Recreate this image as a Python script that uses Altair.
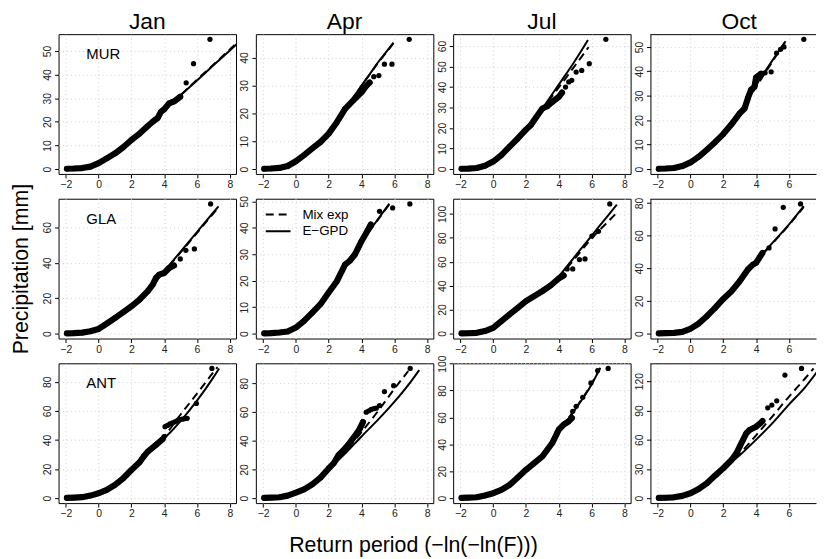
import altair as alt
import pandas as pd

FONT = "Liberation Sans"
MONTHS = ["Jan", "Apr", "Jul", "Oct"]
SITES = ["MUR", "GLA", "ANT"]
LEGEND_LABELS = ["Mix exp", "E\u2212GPD"]
X_TITLE = "Return period (\u2212ln(\u2212ln(F)))"
Y_TITLE = "Precipitation [mm]"
X_TICKS = [-2, 0, 2, 4, 6, 8]

# y tick labels per panel
MUR_YTICKS = [[0, 10, 20, 30, 40, 50], [0, 10, 20, 30, 40], [0, 10, 20, 30, 40, 50, 60], [0, 10, 20, 30, 40, 50]]
GLA_YTICKS = [[0, 20, 40, 60], [0, 10, 20, 30, 40, 50], [0, 20, 40, 60, 80, 100], [0, 20, 40, 60, 80]]
ANT_YTICKS = [[0, 20, 40, 60, 80], [0, 20, 40, 60, 80], [0, 20, 40, 60, 80, 100], [0, 30, 60, 90, 120]]

# ---------------- MUR ----------------
MUR_JAN_BAND = [(-1.93, 0.1), (-1.5, 0.2), (-1.0, 0.4), (-0.5, 1.0), (0.0, 2.5), (0.5, 4.5), (1.0, 6.6), (1.5, 9.2),
                (2.0, 12.3), (2.5, 15.0), (3.0, 18.2), (3.3, 20.0), (3.6, 21.6), (3.8, 24.2), (4.0, 25.3), (4.3, 27.8),
                (4.6, 28.6), (4.98, 30.6)]
MUR_JAN_TAIL = [(5.34, 36.5), (5.79, 44.6), (6.79, 54.9)]
MUR_JAN_EGPD = [(-2, 0.1), (-1, 0.4), (0, 2.6), (1, 6.8), (2, 12.4), (3, 18.6), (4, 24.9), (5, 31.2), (6, 37.5),
                (7, 43.9), (8, 50.2), (8.5, 53.4)]
MUR_JAN_MIX = [(-2, 0.1), (-1, 0.4), (0, 2.5), (1, 6.7), (2, 12.3), (3, 18.5), (4, 24.8), (5, 31.3), (6, 37.8),
               (7, 44.2), (8, 50.6), (8.5, 53.8)]

MUR_APR_BAND = [(-1.93, 0.1), (-1.5, 0.2), (-1.0, 0.4), (-0.5, 1.1), (0.0, 2.8), (0.5, 5.0), (1.0, 7.4), (1.5, 9.7),
                (2.0, 12.7), (2.5, 16.8), (3.0, 21.6), (3.5, 24.6), (4.0, 27.5), (4.3, 29.9), (4.5, 31.0)]
MUR_APR_TAIL = [(4.75, 33.1), (5.06, 33.5), (5.40, 37.6), (5.86, 37.6), (6.91, 46.5)]
MUR_APR_EGPD = [(-2, 0.1), (-1, 0.4), (0, 2.8), (1, 7.3), (2, 12.8), (3, 21.4), (3.5, 25.7), (4, 29.9), (4.5, 34.0),
                (5, 38.2), (5.5, 41.9), (5.95, 45.3)]
MUR_APR_MIX = [(-2, 0.1), (-1, 0.4), (0, 2.8), (1, 7.3), (2, 12.8), (3, 21.3), (3.5, 25.6), (4, 29.8), (4.5, 33.9),
               (5, 38.0), (5.5, 41.7), (5.95, 45.1)]

MUR_JUL_BAND = [(-1.93, 0.1), (-1.5, 0.2), (-1.0, 0.5), (-0.5, 1.6), (0.0, 3.6), (0.5, 6.8), (1.0, 10.9), (1.5, 14.9),
                (2.0, 19.2), (2.3, 21.5), (2.6, 25.0), (3.0, 29.5), (3.3, 30.6), (3.6, 32.7), (4.0, 35.2), (4.2, 37.3)]
MUR_JUL_TAIL = [(4.41, 40.0), (4.61, 42.5), (4.79, 43.3), (5.06, 47.3), (5.40, 48.1), (5.86, 51.4), (6.87, 63.3)]
MUR_JUL_EGPD = [(-2, 0.1), (-1, 0.5), (0, 3.6), (1, 10.9), (2, 19.4), (3, 29.6), (4, 41.2), (5, 53.0), (5.78, 63.0)]
MUR_JUL_MIX = [(-2, 0.1), (-1, 0.5), (0, 3.6), (1, 10.9), (2, 19.3), (3, 29.4), (4, 39.8), (5, 50.6), (5.82, 59.5)]

MUR_OCT_BAND = [(-1.93, 0.1), (-1.5, 0.2), (-1.0, 0.4), (-0.5, 1.2), (0.0, 2.7), (0.5, 5.0), (1.0, 7.9), (1.5, 11.0),
                (2.0, 14.3), (2.5, 18.3), (3.0, 22.8), (3.3, 24.8), (3.5, 29.0), (3.7, 32.5), (3.9, 33.6), (4.0, 37.5),
                (4.3, 39.0)]
MUR_OCT_TAIL = [(4.55, 39.4), (4.92, 39.8), (5.25, 47.5), (5.5, 49.0), (5.7, 50.0), (6.91, 53.1)]
MUR_OCT_EGPD = [(-2, 0.1), (-1, 0.4), (0, 2.7), (1, 7.9), (2, 14.4), (3, 23.5), (4, 34.3), (5, 44.5), (5.8, 52.3)]
MUR_OCT_MIX = [(-2, 0.1), (-1, 0.4), (0, 2.7), (1, 7.8), (2, 14.2), (3, 23.0), (4, 33.6), (5, 44.0), (5.75, 51.8)]

# ---------------- GLA ----------------
GLA_JAN_BAND = [(-1.93, 0.1), (-1.5, 0.2), (-1.0, 0.5), (-0.5, 1.3), (0.0, 2.6), (0.5, 5.6), (1.0, 8.8), (1.5, 12.0),
                (2.0, 15.4), (2.5, 19.2), (3.0, 23.9), (3.3, 27.6), (3.5, 31.4), (3.7, 33.3), (4.0, 34.2), (4.3, 37.0),
                (4.6, 38.4)]
GLA_JAN_TAIL = [(4.98, 42.1), (5.32, 47.0), (5.84, 47.8), (6.83, 73.2)]
GLA_JAN_EGPD = [(-2, 0.1), (-1, 0.5), (0, 2.6), (1, 8.8), (2, 15.6), (3, 24.2), (4, 35.2), (5, 46.2), (6, 57.3),
                (7, 68.4), (7.31, 71.8)]
GLA_JAN_MIX = [(-2, 0.1), (-1, 0.5), (0, 2.6), (1, 8.7), (2, 15.5), (3, 24.0), (4, 34.9), (5, 45.8), (6, 56.8),
               (7, 67.8), (7.3, 71.0)]

GLA_APR_BAND = [(-1.93, 0.1), (-1.5, 0.2), (-1.0, 0.4), (-0.5, 0.8), (0.0, 2.3), (0.5, 4.8), (1.0, 7.9), (1.5, 11.1),
                (2.0, 15.5), (2.5, 19.8), (3.0, 26.1), (3.3, 27.6), (3.6, 29.9), (3.8, 32.4), (4.0, 34.9), (4.3, 38.1),
                (4.57, 41.2)]
GLA_APR_TAIL = [(5.1, 46.2), (5.90, 47.5), (6.95, 49.0)]
GLA_APR_EGPD = [(-2, 0.1), (-1, 0.4), (0, 2.3), (1, 7.9), (2, 15.6), (3, 25.8), (4, 34.6), (5, 43.2), (5.7, 49.1)]
GLA_APR_MIX = [(-2, 0.1), (-1, 0.4), (0, 2.3), (1, 7.9), (2, 15.5), (3, 25.7), (4, 34.5), (5, 43.0), (5.7, 48.9)]

GLA_JUL_BAND = [(-1.93, 0.1), (-1.5, 0.2), (-1.0, 0.5), (-0.5, 2.0), (0.0, 4.7), (0.5, 10.3), (1.0, 15.9), (1.5, 21.4),
                (2.0, 27.0), (2.5, 31.2), (3.0, 35.4), (3.5, 40.1), (4.0, 46.0), (4.3, 48.5)]
GLA_JUL_TAIL = [(4.51, 54.0), (4.85, 54.0), (5.26, 61.8), (5.60, 62.4), (6.02, 81.5), (6.42, 85.5), (7.11, 108.4)]
GLA_JUL_EGPD = [(-2, 0.1), (-1, 0.5), (0, 4.7), (1, 15.9), (2, 27.0), (3, 35.6), (4, 47.9), (5, 64.8), (6, 81.7),
                (7, 98.7), (7.54, 107.8)]
GLA_JUL_MIX = [(-2, 0.1), (-1, 0.5), (0, 4.7), (1, 15.8), (2, 26.8), (3, 35.3), (4, 47.0), (5, 63.0), (6, 79.5),
               (7, 93.5), (7.52, 100.8)]

GLA_OCT_BAND = [(-1.93, 0.1), (-1.5, 0.2), (-1.0, 0.4), (-0.5, 1.0), (0.0, 2.9), (0.5, 6.1), (1.0, 10.6), (1.5, 15.7),
                (2.0, 21.2), (2.5, 25.9), (3.0, 32.0), (3.5, 39.2), (3.8, 42.2), (4.0, 43.3), (4.39, 49.4)]
GLA_OCT_TAIL = [(4.79, 52.4), (5.16, 64.1), (5.66, 77.3), (6.71, 79.4)]
GLA_OCT_EGPD = [(-2, 0.1), (-1, 0.4), (0, 2.9), (1, 10.6), (2, 21.2), (3, 32.5), (4, 44.3), (5, 55.5), (6, 66.7),
                (6.91, 78.0)]
GLA_OCT_MIX = [(-2, 0.1), (-1, 0.4), (0, 2.9), (1, 10.5), (2, 21.0), (3, 32.3), (4, 44.0), (5, 55.2), (6, 66.4),
               (6.9, 77.5)]

# ---------------- ANT ----------------
ANT_JAN_BAND = [(-1.93, 0.2), (-1.5, 0.4), (-1.0, 0.7), (-0.5, 1.8), (0.0, 3.4), (0.5, 5.7), (1.0, 9.1), (1.5, 13.7),
                (2.0, 19.4), (2.5, 24.7), (2.75, 28.6), (3.0, 32.0), (3.5, 36.6), (3.9, 40.5)]
ANT_JAN_TAIL = [(3.99, 42.3), (4.05, 49.1), (4.2, 50.0), (4.35, 51.0), (4.5, 51.8), (4.65, 52.5), (4.8, 53.3),
                (4.95, 54.0), (5.1, 54.3), (5.25, 54.6), (5.4, 54.9), (5.96, 65.1), (6.91, 89.1)]
ANT_JAN_EGPD = [(-2, 0.2), (-1, 0.7), (0, 3.4), (1, 9.1), (2, 19.2), (3, 31.0), (4, 41.0), (5, 53.0), (6, 67.0),
                (7, 83.0), (7.35, 89.1)]
ANT_JAN_MIX = [(-2, 0.2), (-1, 0.7), (0, 3.4), (1, 9.1), (2, 19.3), (3, 31.3), (4, 42.5), (5, 57.5), (6, 71.8),
               (7, 86.5), (7.25, 90.0)]

ANT_APR_BAND = [(-1.93, 0.2), (-1.5, 0.4), (-1.0, 0.7), (-0.5, 1.8), (0.0, 3.9), (0.5, 6.2), (1.0, 9.7), (1.5, 14.3),
                (2.0, 20.7), (2.3, 24.2), (2.6, 30.0), (2.9, 33.4), (3.2, 37.3), (3.5, 41.9), (3.7, 44.9), (3.9, 48.4),
                (4.09, 53.0)]
ANT_APR_TAIL = [(4.29, 59.9), (4.45, 60.8), (4.59, 61.8), (4.75, 62.3), (4.9, 62.7), (5.10, 64.5), (5.40, 74.2),
                (5.96, 78.3), (6.97, 90.3)]
ANT_APR_EGPD = [(-2, 0.2), (-1, 0.7), (0, 3.9), (1, 9.6), (2, 20.0), (3, 31.0), (4, 43.0), (5, 54.5), (6, 67.0),
                (7, 81.0), (7.52, 89.2)]
ANT_APR_MIX = [(-2, 0.2), (-1, 0.7), (0, 3.9), (1, 9.7), (2, 20.4), (3, 32.0), (4, 46.0), (5, 60.5), (6, 76.0),
               (6.85, 88.5)]

ANT_JUL_BAND = [(-1.93, 0.2), (-1.5, 0.4), (-1.0, 0.7), (-0.5, 2.0), (0.0, 3.7), (0.5, 6.2), (1.0, 9.9), (1.5, 15.4),
                (2.0, 21.1), (2.5, 26.1), (3.0, 31.1), (3.3, 36.0), (3.6, 41.0), (3.9, 48.4), (4.0, 50.9), (4.3, 54.7),
                (4.6, 57.1), (4.8, 59.6)]
ANT_JUL_TAIL = [(4.85, 64.6), (5.06, 68.3), (5.46, 75.0), (5.96, 85.7), (6.37, 94.9), (7.01, 96.4)]
ANT_JUL_EGPD = [(-2, 0.2), (-1, 0.7), (0, 3.7), (1, 9.9), (2, 21.0), (3, 32.0), (4, 49.0), (5, 66.0), (6, 84.5),
                (6.53, 96.9)]
ANT_JUL_MIX = [(-2, 0.2), (-1, 0.7), (0, 3.7), (1, 9.9), (2, 21.0), (3, 32.2), (4, 49.5), (5, 66.5), (6, 85.0),
               (6.5, 96.5)]

ANT_OCT_BAND = [(-1.93, 0.3), (-1.5, 0.5), (-1.0, 0.9), (-0.5, 2.4), (0.0, 5.1), (0.5, 9.5), (1.0, 15.3), (1.5, 23.2),
                (2.0, 30.7), (2.5, 39.2), (2.8, 46.0), (3.0, 52.8), (3.2, 59.7), (3.4, 66.5), (3.6, 69.9), (3.8, 71.6),
                (4.0, 73.3), (4.25, 76.7), (4.39, 79.1)]
ANT_OCT_TAIL = [(4.71, 92.7), (4.96, 95.5), (5.26, 99.9), (5.76, 126.2), (6.77, 133.0)]
ANT_OCT_EGPD = [(-2, 0.3), (-1, 0.9), (0, 5.1), (1, 15.3), (2, 30.2), (3, 44.0), (4, 60.0), (5, 77.0), (6, 96.0),
                (7, 114.0), (7.8, 131.5)]
ANT_OCT_MIX = [(-2, 0.3), (-1, 0.9), (0, 5.1), (1, 15.3), (2, 30.4), (3, 45.5), (4, 64.5), (5, 84.0), (6, 104.0),
               (7, 123.0), (7.5, 133.0)]

PANELS = [
    [(MUR_JAN_BAND, MUR_JAN_TAIL, MUR_JAN_EGPD, MUR_JAN_MIX), (MUR_APR_BAND, MUR_APR_TAIL, MUR_APR_EGPD, MUR_APR_MIX),
     (MUR_JUL_BAND, MUR_JUL_TAIL, MUR_JUL_EGPD, MUR_JUL_MIX), (MUR_OCT_BAND, MUR_OCT_TAIL, MUR_OCT_EGPD, MUR_OCT_MIX)],
    [(GLA_JAN_BAND, GLA_JAN_TAIL, GLA_JAN_EGPD, GLA_JAN_MIX), (GLA_APR_BAND, GLA_APR_TAIL, GLA_APR_EGPD, GLA_APR_MIX),
     (GLA_JUL_BAND, GLA_JUL_TAIL, GLA_JUL_EGPD, GLA_JUL_MIX), (GLA_OCT_BAND, GLA_OCT_TAIL, GLA_OCT_EGPD, GLA_OCT_MIX)],
    [(ANT_JAN_BAND, ANT_JAN_TAIL, ANT_JAN_EGPD, ANT_JAN_MIX), (ANT_APR_BAND, ANT_APR_TAIL, ANT_APR_EGPD, ANT_APR_MIX),
     (ANT_JUL_BAND, ANT_JUL_TAIL, ANT_JUL_EGPD, ANT_JUL_MIX), (ANT_OCT_BAND, ANT_OCT_TAIL, ANT_OCT_EGPD, ANT_OCT_MIX)],
]
YTICKS = [MUR_YTICKS, GLA_YTICKS, ANT_YTICKS]

# ---------------- layout ----------------
PANEL_W = 179
PANEL_H = 141
LAST_W = 167
X_MIN = -2.44
X_SPAN = 10.82
PX_PER_UNIT = PANEL_W / X_SPAN


def df(pairs):
    return pd.DataFrame(pairs, columns=["x", "y"])


def make_panel(r, c):
    band, tail, egpd, mix = PANELS[r][c]
    last = c == 3
    w = LAST_W if last else PANEL_W
    xdom = [X_MIN, X_MIN + w / PX_PER_UNIT]
    xt = [t for t in X_TICKS if xdom[0] <= t <= xdom[1]]
    ys = [p[1] for p in band + tail]
    lo, hi = min(ys), max(ys)
    pad = 0.04 * (hi - lo)
    ydom = [lo - pad, hi + pad]

    common = dict(grid=True, gridColor="#d0d0d0", gridDash=[1, 3], gridWidth=1,
                  domain=last, domainColor="black", domainWidth=1,
                  tickSize=4, tickColor="black", tickWidth=1,
                  labelFont=FONT, labelFontSize=10.5, labelColor="#222222",
                  labelFlush=False, labelOverlap=False, format="d")
    xaxis = alt.Axis(values=xt, labelPadding=2, **common)
    yextra = {}
    if r == 1 and c == 0:
        yextra = dict(titleFont=FONT, titleFontSize=21.5, titleFontWeight="normal",
                      titleColor="black", titlePadding=10)
    yaxis = alt.Axis(values=YTICKS[r][c], labelAngle=270, labelAlign="center", labelBaseline="bottom",
                     labelPadding=2, **common, **yextra)

    X = alt.X("x:Q", scale=alt.Scale(domain=xdom, nice=False, zero=False), axis=xaxis, title=None)
    if yextra:
        Y = alt.Y("y:Q", scale=alt.Scale(domain=ydom, nice=False, zero=False), axis=yaxis, title=Y_TITLE)
    else:
        Y = alt.Y("y:Q", scale=alt.Scale(domain=ydom, nice=False, zero=False), axis=yaxis, title=None)

    layers = [
        alt.Chart(df(band)).mark_line(color="black", strokeWidth=6.2, strokeCap="round", strokeJoin="round",
                                      clip=True).encode(x=X, y=Y),
        alt.Chart(df(band)).mark_circle(color="black", size=30, opacity=1, clip=True).encode(x=X, y=Y),
        alt.Chart(df(tail)).mark_circle(color="black", size=28, opacity=1, clip=True).encode(x=X, y=Y),
        alt.Chart(df(egpd)).mark_line(color="black", strokeWidth=2, interpolate="monotone",
                                      clip=True).encode(x=X, y=Y),
        alt.Chart(df(mix)).mark_line(color="black", strokeWidth=2, strokeDash=[8, 5], interpolate="monotone",
                                     clip=True).encode(x=X, y=Y),
    ]
    if c == 0:
        layers.append(
            alt.Chart(alt.Data(values=[{"t": SITES[r]}])).mark_text(
                align="left", baseline="alphabetic", font=FONT, fontSize=15, color="black"
            ).encode(text="t:N", x=alt.value(28), y=alt.value(25))
        )
    if r == 1 and c == 1:
        dashes = [[8, 5], [1, 0]]
        for i, lab in enumerate(LEGEND_LABELS):
            yy = 16 + 16.7 * i
            layers.append(
                alt.Chart(alt.Data(values=[{"t": lab}])).mark_rule(
                    color="black", strokeWidth=2, strokeDash=dashes[i]
                ).encode(x=alt.value(10), x2=alt.value(35), y=alt.value(yy))
            )
            layers.append(
                alt.Chart(alt.Data(values=[{"t": lab}])).mark_text(
                    align="left", baseline="middle", font=FONT, fontSize=13.5, color="black"
                ).encode(text="t:N", x=alt.value(47), y=alt.value(yy))
            )
    if last:
        layers.append(
            alt.Chart(alt.Data(values=[{"t": "top"}])).mark_rule(color="black", strokeWidth=1).encode(
                x=alt.value(0), x2=alt.value(w), y=alt.value(0.5))
        )

    props = dict(width=w, height=PANEL_H)
    if last:
        props["view"] = alt.ViewBackground(strokeOpacity=0)
    if r == 0:
        props["title"] = alt.TitleParams(MONTHS[c], font=FONT, fontSize=23, fontWeight="normal", color="black",
                                         anchor="middle", baseline="alphabetic", offset=-18,
                                         dx=(PANEL_W - LAST_W) / 2 if last else 0)
    return alt.layer(*layers).properties(**props)


panels = [make_panel(r, c) for r in range(3) for c in range(4)]

chart = alt.concat(*panels, columns=4, spacing={"row": 25, "column": 20}, bounds="flush").properties(
    title=alt.TitleParams(X_TITLE, orient="bottom", anchor="middle", font=FONT, fontSize=21.5,
                          fontWeight="normal", color="black", offset=15),
    padding={"left": 2, "top": 0, "right": 0, "bottom": 0},
).configure_view(stroke="black", strokeWidth=1)

chart.save("out.html", embed_options={"renderer": "svg", "actions": False})
